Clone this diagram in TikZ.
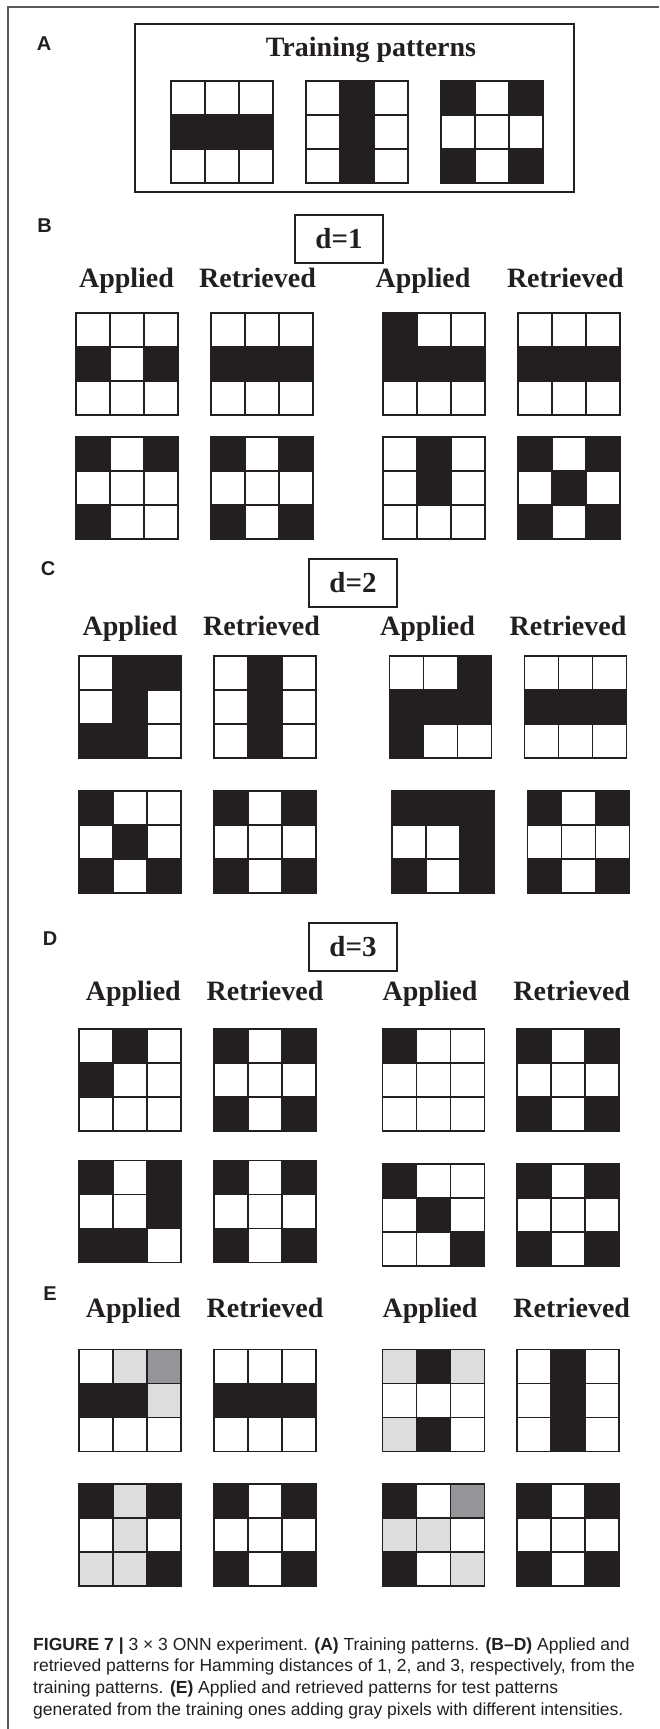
\documentclass[tikz,border=0pt]{standalone}
\usepackage{fontspec}
\setmainfont{Liberation Serif}
\setsansfont{Liberation Sans}
\definecolor{ink}{HTML}{231F20}
\definecolor{cellw}{HTML}{FFFFFF}
\definecolor{cellb}{HTML}{231F20}
\definecolor{celll}{HTML}{DCDDDF}
\definecolor{cellg}{HTML}{939598}
\tikzset{
  gridline/.style={draw=ink, line width=1.6pt, line cap=rect},
  boxline/.style={draw=ink, line width=1.4pt},
  frameline/.style={draw=black!65, line width=1.3pt},
  lab/.style={font=\fontsize{28}{30}\selectfont\bfseries, text=ink, inner sep=0pt, anchor=base},
  dlab/.style={font=\fontsize{29}{30}\selectfont\bfseries, text=ink, inner sep=0pt},
  sec/.style={font=\sffamily\bfseries\fontsize{20}{22}\selectfont, text=ink, inner sep=0pt, anchor=base},
  capline/.style={font=\sffamily\fontsize{17.5}{20}\selectfont, text=ink, inner sep=0pt, anchor=base west}
}
\newcommand{\pgridat}[3]{%
  \foreach \cc [count=\i from 0] in {#3} {%
    \pgfmathtruncatemacro{\rr}{\i/3}%
    \pgfmathtruncatemacro{\qq}{\i-3*\rr}%
    \fill[cell\cc] ({#1+34*\qq},{#2+34*\rr}) rectangle ++(34,34);
  }%
  \foreach \k in {0,34,68,102} {%
    \draw[gridline] ({#1+\k},#2) -- ++(0,102);
    \draw[gridline] (#1,{#2+\k}) -- ++(102,0);
  }%
}
\begin{document}
\begin{tikzpicture}[x=1pt,y=-1pt]
\useasboundingbox (0,0) rectangle (659,1729);
\fill[white] (0,0) rectangle (659,1729);
% outer frame (top and left edges)
\draw[frameline] (8,1729) -- (8,7) -- (659,7);

% ---------- A ----------
\node[sec] (secA) at (44,50) {A};
\draw[boxline] (135,24) rectangle (574,192);
\node[lab] (titleA) at (371,56) {Training patterns};
\pgridat{171}{81}{w,w,w,b,b,b,w,w,w}
\pgridat{306}{81}{w,b,w,w,b,w,w,b,w}
\pgridat{441}{81}{b,w,b,w,w,w,b,w,b}

% ---------- B ----------
\node[sec] (secB) at (44.5,232) {B};
\node[dlab, draw=ink, line width=1.4pt, minimum width=88pt, minimum height=48pt] (dB) at (339,239) {d=1};
\node[lab] (bA1) at (126.5,287) {Applied};
\node[lab] (bR1) at (257.5,287) {Retrieved};
\node[lab] (bA2) at (423,287) {Applied};
\node[lab] (bR2) at (565.3,287) {Retrieved};
\pgridat{76}{313}{w,w,w,b,w,b,w,w,w}
\pgridat{211}{313}{w,w,w,b,b,b,w,w,w}
\pgridat{383}{313}{b,w,w,b,b,b,w,w,w}
\pgridat{518}{313}{w,w,w,b,b,b,w,w,w}
\pgridat{76}{437}{b,w,b,w,w,w,b,w,w}
\pgridat{211}{437}{b,w,b,w,w,w,b,w,b}
\pgridat{383}{437}{w,b,w,w,b,w,w,w,w}
\pgridat{518}{437}{b,w,b,w,b,w,b,w,b}

% ---------- C ----------
\node[sec] (secC) at (48,575) {C};
\node[dlab, draw=ink, line width=1.4pt, minimum width=88pt, minimum height=48pt] (dC) at (353,583) {d=2};
\node[lab] (cA1) at (130,635.7) {Applied};
\node[lab] (cR1) at (261.5,635.7) {Retrieved};
\node[lab] (cA2) at (427.5,635.7) {Applied};
\node[lab] (cR2) at (568,635.7) {Retrieved};
\pgridat{79}{656}{w,b,b,w,b,w,b,b,w}
\pgridat{214}{656}{w,b,w,w,b,w,w,b,w}
\pgridat{389.5}{656}{w,w,b,b,b,b,b,w,w}
\pgridat{524.4}{656}{w,w,w,b,b,b,w,w,w}
\pgridat{79}{791}{b,w,w,w,b,w,b,w,b}
\pgridat{214}{791}{b,w,b,w,w,w,b,w,b}
\pgridat{392}{791}{b,b,b,w,w,b,b,w,b}
\pgridat{527.3}{791}{b,w,b,w,w,w,b,w,b}

% ---------- D ----------
\node[sec] (secD) at (50,945) {D};
\node[dlab, draw=ink, line width=1.4pt, minimum width=88pt, minimum height=48pt] (dD) at (353,947) {d=3};
\node[lab] (dA1) at (133.3,1000) {Applied};
\node[lab] (dR1) at (265,1000) {Retrieved};
\node[lab] (dA2) at (430,1000) {Applied};
\node[lab] (dR2) at (571.7,1000) {Retrieved};
\pgridat{79}{1029}{w,b,w,b,w,w,w,w,w}
\pgridat{214}{1029}{b,w,b,w,w,w,b,w,b}
\pgridat{382.4}{1029}{b,w,w,w,w,w,w,w,w}
\pgridat{516.8}{1029}{b,w,b,w,w,w,b,w,b}
\pgridat{79}{1160.3}{b,w,b,w,w,b,b,b,w}
\pgridat{214}{1160.3}{b,w,b,w,w,w,b,w,b}
\pgridat{382.4}{1163.7}{b,w,w,w,b,w,w,w,b}
\pgridat{516.8}{1163.7}{b,w,b,w,w,w,b,w,b}

% ---------- E ----------
\node[sec] (secE) at (50,1300) {E};
\node[lab] (eA1) at (133.3,1317) {Applied};
\node[lab] (eR1) at (265,1317) {Retrieved};
\node[lab] (eA2) at (430,1317) {Applied};
\node[lab] (eR2) at (571.7,1317) {Retrieved};
\pgridat{79}{1349.3}{w,l,g,b,b,l,w,w,w}
\pgridat{214}{1349.3}{w,w,w,b,b,b,w,w,w}
\pgridat{382.4}{1349.3}{l,b,l,w,w,w,l,b,w}
\pgridat{516.8}{1349.3}{w,b,w,w,b,w,w,b,w}
\pgridat{79}{1484}{b,l,b,w,l,w,l,l,b}
\pgridat{214}{1484}{b,w,b,w,w,w,b,w,b}
\pgridat{382.4}{1484}{b,w,g,l,l,w,b,w,l}
\pgridat{516.8}{1484}{b,w,b,w,w,w,b,w,b}

% ---------- caption ----------
\node[capline] (cap1) at (33,1650) {\textbf{FIGURE 7 |} 3 × 3 ONN experiment. \textbf{(A)} Training patterns. \textbf{(B–D)} Applied and};
\node[capline] (cap2) at (33,1671.7) {retrieved patterns for Hamming distances of 1, 2, and 3, respectively, from the};
\node[capline] (cap3) at (33,1693.4) {training patterns. \textbf{(E)} Applied and retrieved patterns for test patterns};
\node[capline] (cap4) at (33,1715) {generated from the training ones adding gray pixels with different intensities.};
\end{tikzpicture}
\end{document}
